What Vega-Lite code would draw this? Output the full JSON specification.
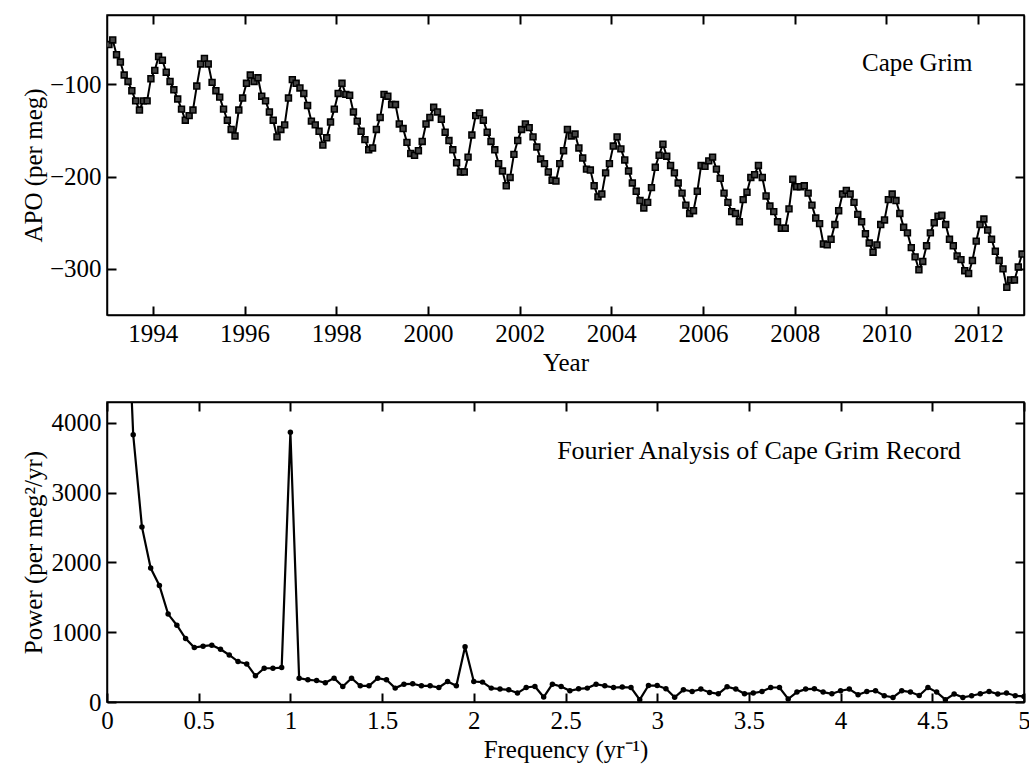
{
"$schema": "https://vega.github.io/schema/vega-lite/v6.json",
"padding": {"left": 20, "top": 13, "right": 5, "bottom": 5},
"background": "white",
"bounds": "flush",
"spacing": 87,
"config": {
  "font": "Liberation Serif",
  "view": {"stroke": "black", "strokeWidth": 1.5},
  "axis": {"grid": false, "domain": true, "domainColor": "black", "domainWidth": 1.5, "ticks": true, "tickColor": "#000000", "tickSize": 9, "tickWidth": 2, "zindex": 1,
    "labelFont": "Liberation Serif", "labelFontSize": 25, "labelColor": "black", "labelPadding": 6,
    "labelFlush": false, "labelOverlap": false,
    "titleFont": "Liberation Serif", "titleFontSize": 25, "titleFontWeight": "normal", "titleColor": "black"}
},
"datasets": {
"apo": [
{"t":1993.042,"v":-57},{"t":1993.125,"v":-52},{"t":1993.208,"v":-68},{"t":1993.292,"v":-76},{"t":1993.375,"v":-90},{"t":1993.458,"v":-97},{"t":1993.542,"v":-107},{"t":1993.625,"v":-118},{"t":1993.708,"v":-128},{"t":1993.792,"v":-118},{"t":1993.875,"v":-118},{"t":1993.958,"v":-94},
{"t":1994.042,"v":-85},{"t":1994.125,"v":-70},{"t":1994.208,"v":-74},{"t":1994.292,"v":-87},{"t":1994.375,"v":-97},{"t":1994.458,"v":-106},{"t":1994.542,"v":-116},{"t":1994.625,"v":-127},{"t":1994.708,"v":-139},{"t":1994.792,"v":-134},{"t":1994.875,"v":-128},{"t":1994.958,"v":-102},
{"t":1995.042,"v":-78},{"t":1995.125,"v":-72},{"t":1995.208,"v":-78},{"t":1995.292,"v":-98},{"t":1995.375,"v":-107},{"t":1995.458,"v":-114},{"t":1995.542,"v":-127},{"t":1995.625,"v":-139},{"t":1995.708,"v":-149},{"t":1995.792,"v":-156},{"t":1995.875,"v":-128},{"t":1995.958,"v":-115},
{"t":1996.042,"v":-99},{"t":1996.125,"v":-90},{"t":1996.208,"v":-97},{"t":1996.292,"v":-93},{"t":1996.375,"v":-113},{"t":1996.458,"v":-118},{"t":1996.542,"v":-130},{"t":1996.625,"v":-139},{"t":1996.708,"v":-157},{"t":1996.792,"v":-149},{"t":1996.875,"v":-144},{"t":1996.958,"v":-115},
{"t":1997.042,"v":-95},{"t":1997.125,"v":-99},{"t":1997.208,"v":-104},{"t":1997.292,"v":-110},{"t":1997.375,"v":-123},{"t":1997.458,"v":-140},{"t":1997.542,"v":-144},{"t":1997.625,"v":-151},{"t":1997.708,"v":-166},{"t":1997.792,"v":-158},{"t":1997.875,"v":-141},{"t":1997.958,"v":-127},
{"t":1998.042,"v":-110},{"t":1998.125,"v":-99},{"t":1998.208,"v":-111},{"t":1998.292,"v":-112},{"t":1998.375,"v":-130},{"t":1998.458,"v":-140},{"t":1998.542,"v":-151},{"t":1998.625,"v":-160},{"t":1998.708,"v":-171},{"t":1998.792,"v":-169},{"t":1998.875,"v":-149},{"t":1998.958,"v":-136},
{"t":1999.042,"v":-111},{"t":1999.125,"v":-113},{"t":1999.208,"v":-122},{"t":1999.292,"v":-122},{"t":1999.375,"v":-143},{"t":1999.458,"v":-148},{"t":1999.542,"v":-163},{"t":1999.625,"v":-175},{"t":1999.708,"v":-177},{"t":1999.792,"v":-172},{"t":1999.875,"v":-162},{"t":1999.958,"v":-143},
{"t":2000.042,"v":-136},{"t":2000.125,"v":-125},{"t":2000.208,"v":-130},{"t":2000.292,"v":-138},{"t":2000.375,"v":-152},{"t":2000.458,"v":-161},{"t":2000.542,"v":-171},{"t":2000.625,"v":-185},{"t":2000.708,"v":-195},{"t":2000.792,"v":-195},{"t":2000.875,"v":-179},{"t":2000.958,"v":-155},
{"t":2001.042,"v":-134},{"t":2001.125,"v":-131},{"t":2001.208,"v":-139},{"t":2001.292,"v":-152},{"t":2001.375,"v":-162},{"t":2001.458,"v":-171},{"t":2001.542,"v":-186},{"t":2001.625,"v":-194},{"t":2001.708,"v":-210},{"t":2001.792,"v":-201},{"t":2001.875,"v":-176},{"t":2001.958,"v":-161},
{"t":2002.042,"v":-149},{"t":2002.125,"v":-143},{"t":2002.208,"v":-147},{"t":2002.292,"v":-157},{"t":2002.375,"v":-168},{"t":2002.458,"v":-181},{"t":2002.542,"v":-186},{"t":2002.625,"v":-195},{"t":2002.708,"v":-204},{"t":2002.792,"v":-205},{"t":2002.875,"v":-186},{"t":2002.958,"v":-172},
{"t":2003.042,"v":-149},{"t":2003.125,"v":-156},{"t":2003.208,"v":-154},{"t":2003.292,"v":-169},{"t":2003.375,"v":-180},{"t":2003.458,"v":-192},{"t":2003.542,"v":-193},{"t":2003.625,"v":-210},{"t":2003.708,"v":-222},{"t":2003.792,"v":-219},{"t":2003.875,"v":-196},{"t":2003.958,"v":-186},
{"t":2004.042,"v":-167},{"t":2004.125,"v":-157},{"t":2004.208,"v":-170},{"t":2004.292,"v":-182},{"t":2004.375,"v":-194},{"t":2004.458,"v":-207},{"t":2004.542,"v":-216},{"t":2004.625,"v":-226},{"t":2004.708,"v":-234},{"t":2004.792,"v":-228},{"t":2004.875,"v":-212},{"t":2004.958,"v":-190},
{"t":2005.042,"v":-177},{"t":2005.125,"v":-165},{"t":2005.208,"v":-178},{"t":2005.292,"v":-188},{"t":2005.375,"v":-196},{"t":2005.458,"v":-207},{"t":2005.542,"v":-218},{"t":2005.625,"v":-231},{"t":2005.708,"v":-240},{"t":2005.792,"v":-237},{"t":2005.875,"v":-216},{"t":2005.958,"v":-188},
{"t":2006.042,"v":-189},{"t":2006.125,"v":-183},{"t":2006.208,"v":-179},{"t":2006.292,"v":-192},{"t":2006.375,"v":-202},{"t":2006.458,"v":-218},{"t":2006.542,"v":-228},{"t":2006.625,"v":-238},{"t":2006.708,"v":-240},{"t":2006.792,"v":-249},{"t":2006.875,"v":-225},{"t":2006.958,"v":-217},
{"t":2007.042,"v":-201},{"t":2007.125,"v":-198},{"t":2007.208,"v":-188},{"t":2007.292,"v":-201},{"t":2007.375,"v":-221},{"t":2007.458,"v":-232},{"t":2007.542,"v":-238},{"t":2007.625,"v":-249},{"t":2007.708,"v":-256},{"t":2007.792,"v":-256},{"t":2007.875,"v":-235},{"t":2007.958,"v":-203},
{"t":2008.042,"v":-211},{"t":2008.125,"v":-211},{"t":2008.208,"v":-210},{"t":2008.292,"v":-218},{"t":2008.375,"v":-231},{"t":2008.458,"v":-245},{"t":2008.542,"v":-251},{"t":2008.625,"v":-273},{"t":2008.708,"v":-274},{"t":2008.792,"v":-268},{"t":2008.875,"v":-252},{"t":2008.958,"v":-237},
{"t":2009.042,"v":-219},{"t":2009.125,"v":-215},{"t":2009.208,"v":-219},{"t":2009.292,"v":-228},{"t":2009.375,"v":-241},{"t":2009.458,"v":-249},{"t":2009.542,"v":-262},{"t":2009.625,"v":-272},{"t":2009.708,"v":-282},{"t":2009.792,"v":-274},{"t":2009.875,"v":-252},{"t":2009.958,"v":-247},
{"t":2010.042,"v":-225},{"t":2010.125,"v":-219},{"t":2010.208,"v":-226},{"t":2010.292,"v":-240},{"t":2010.375,"v":-255},{"t":2010.458,"v":-261},{"t":2010.542,"v":-277},{"t":2010.625,"v":-287},{"t":2010.708,"v":-301},{"t":2010.792,"v":-292},{"t":2010.875,"v":-275},{"t":2010.958,"v":-261},
{"t":2011.042,"v":-250},{"t":2011.125,"v":-243},{"t":2011.208,"v":-242},{"t":2011.292,"v":-252},{"t":2011.375,"v":-268},{"t":2011.458,"v":-275},{"t":2011.542,"v":-286},{"t":2011.625,"v":-290},{"t":2011.708,"v":-302},{"t":2011.792,"v":-305},{"t":2011.875,"v":-291},{"t":2011.958,"v":-270},
{"t":2012.042,"v":-252},{"t":2012.125,"v":-246},{"t":2012.208,"v":-258},{"t":2012.292,"v":-268},{"t":2012.375,"v":-281},{"t":2012.458,"v":-291},{"t":2012.542,"v":-300},{"t":2012.625,"v":-320},{"t":2012.708,"v":-312},{"t":2012.792,"v":-312},{"t":2012.875,"v":-298},{"t":2012.958,"v":-284}
],
"power": [
{"f":0.0476,"p":15000},{"f":0.0952,"p":6800},{"f":0.1429,"p":3830},{"f":0.1905,"p":2510},{"f":0.2381,"p":1920},{"f":0.2857,"p":1670},{"f":0.3333,"p":1260},{"f":0.381,"p":1100},{"f":0.4286,"p":910},{"f":0.4762,"p":780},
{"f":0.5238,"p":800},{"f":0.5714,"p":815},{"f":0.619,"p":755},{"f":0.6667,"p":674},{"f":0.7143,"p":579},{"f":0.7619,"p":546},{"f":0.8095,"p":375},{"f":0.8571,"p":484},{"f":0.9048,"p":484},{"f":0.9524,"p":493},
{"f":1.0,"p":3865},{"f":1.0476,"p":342},{"f":1.0952,"p":318},{"f":1.1429,"p":308},{"f":1.1905,"p":275},{"f":1.2381,"p":342},{"f":1.2857,"p":222},{"f":1.3333,"p":342},{"f":1.381,"p":232},{"f":1.4286,"p":232},
{"f":1.4762,"p":342},{"f":1.5238,"p":318},{"f":1.5714,"p":199},{"f":1.619,"p":256},{"f":1.6667,"p":261},{"f":1.7143,"p":232},{"f":1.7619,"p":232},{"f":1.8095,"p":208},{"f":1.8571,"p":294},{"f":1.9048,"p":232},
{"f":1.9524,"p":792},{"f":2.0,"p":294},{"f":2.0476,"p":285},{"f":2.0952,"p":199},{"f":2.1429,"p":185},{"f":2.1905,"p":175},{"f":2.2381,"p":128},{"f":2.2857,"p":208},{"f":2.3333,"p":222},{"f":2.381,"p":71},
{"f":2.4286,"p":256},{"f":2.4762,"p":222},{"f":2.5238,"p":161},{"f":2.5714,"p":189},{"f":2.619,"p":199},{"f":2.6667,"p":256},{"f":2.7143,"p":232},{"f":2.7619,"p":208},{"f":2.8095,"p":214},{"f":2.8571,"p":208},
{"f":2.9048,"p":33},{"f":2.9524,"p":236},{"f":3.0,"p":236},{"f":3.0476,"p":190},{"f":3.0952,"p":68},{"f":3.1429,"p":175},{"f":3.1905,"p":151},{"f":3.2381,"p":185},{"f":3.2857,"p":137},{"f":3.3333,"p":118},
{"f":3.381,"p":218},{"f":3.4286,"p":185},{"f":3.4762,"p":118},{"f":3.5238,"p":128},{"f":3.5714,"p":151},{"f":3.619,"p":208},{"f":3.6667,"p":208},{"f":3.7143,"p":43},{"f":3.7619,"p":142},{"f":3.8095,"p":185},
{"f":3.8571,"p":189},{"f":3.9048,"p":142},{"f":3.9524,"p":118},{"f":4.0,"p":161},{"f":4.0476,"p":185},{"f":4.0952,"p":104},{"f":4.1429,"p":151},{"f":4.1905,"p":161},{"f":4.2381,"p":90},{"f":4.2857,"p":66},
{"f":4.3333,"p":161},{"f":4.381,"p":142},{"f":4.4286,"p":94},{"f":4.4762,"p":208},{"f":4.5238,"p":142},{"f":4.5714,"p":33},{"f":4.619,"p":114},{"f":4.6667,"p":66},{"f":4.7143,"p":90},{"f":4.7619,"p":118},
{"f":4.8095,"p":151},{"f":4.8571,"p":114},{"f":4.9048,"p":128},{"f":4.9524,"p":90},{"f":5.0,"p":80}
]
},
"vconcat": [
{
  "width": 917, "height": 300,
  "layer": [
    {"data": {"name": "apo"},
     "mark": {"type": "line", "color": "black", "strokeWidth": 2, "clip": true},
     "encoding": {
       "x": {"field": "t", "type": "quantitative", "scale": {"domain": [1993, 2013], "nice": false, "zero": false},
             "axis": {"orient": "bottom", "values": [1994,1996,1998,2000,2002,2004,2006,2008,2010,2012], "format": "d", "tickSize": -9, "labelPadding": 15, "title": "Year", "titleBaseline": "alphabetic", "titleY": 55}},
       "y": {"field": "v", "type": "quantitative", "scale": {"domain": [-350, -25], "nice": false, "zero": false},
             "axis": {"orient": "left", "values": [-300,-200,-100], "tickSize": -9, "labelPadding": 15, "title": "APO (per meg)", "titleX": -66, "titleBaseline": "alphabetic"}}
     }},
    {"data": {"name": "apo"},
     "mark": {"type": "point", "shape": "square", "filled": true, "size": 34, "fill": "#444444", "stroke": "black", "strokeWidth": 1.6, "opacity": 1, "clip": true},
     "encoding": {
       "x": {"field": "t", "type": "quantitative", "scale": {"domain": [1993, 2013], "nice": false, "zero": false},
             "axis": {"orient": "top", "values": [1994,1996,1998,2000,2002,2004,2006,2008,2010,2012], "tickSize": -9, "labels": false, "title": null}},
       "y": {"field": "v", "type": "quantitative", "scale": {"domain": [-350, -25], "nice": false, "zero": false},
             "axis": {"orient": "right", "values": [-300,-200,-100], "tickSize": -9, "labels": false, "title": null}}
     }},
    {"data": {"values": [{"label": "Cape Grim", "t": 2010.67, "v": -77}]},
     "mark": {"type": "text", "font": "Liberation Serif", "fontSize": 25, "color": "black", "align": "center", "baseline": "middle"},
     "encoding": {
       "x": {"field": "t", "type": "quantitative", "scale": {"domain": [1993, 2013], "nice": false, "zero": false}, "axis": null},
       "y": {"field": "v", "type": "quantitative", "scale": {"domain": [-350, -25], "nice": false, "zero": false}, "axis": null},
       "text": {"field": "label"}
     }}
  ],
  "resolve": {"axis": {"x": "independent", "y": "independent"}}
},
{
  "width": 917, "height": 300,
  "layer": [
    {"data": {"name": "power"},
     "mark": {"type": "line", "color": "black", "strokeWidth": 2.2, "clip": true},
     "encoding": {
       "x": {"field": "f", "type": "quantitative", "scale": {"domain": [0, 5], "nice": false},
             "axis": {"orient": "bottom", "values": [0,0.5,1,1.5,2,2.5,3,3.5,4,4.5,5], "format": "~g", "tickSize": -9, "labelPadding": 15, "title": "Frequency (yr⁻¹)", "titleBaseline": "alphabetic", "titleY": 55}},
       "y": {"field": "p", "type": "quantitative", "scale": {"domain": [0, 4300], "nice": false},
             "axis": {"orient": "left", "values": [0,1000,2000,3000,4000], "format": "d", "tickSize": -9, "labelPadding": 15, "title": "Power (per meg²/yr)", "titleX": -66, "titleBaseline": "alphabetic"}}
     }},
    {"data": {"name": "power"},
     "mark": {"type": "point", "shape": "circle", "filled": true, "size": 30, "color": "black", "opacity": 1, "clip": true},
     "encoding": {
       "x": {"field": "f", "type": "quantitative", "scale": {"domain": [0, 5], "nice": false},
             "axis": {"orient": "top", "values": [0,0.5,1,1.5,2,2.5,3,3.5,4,4.5,5], "tickSize": -9, "labels": false, "title": null}},
       "y": {"field": "p", "type": "quantitative", "scale": {"domain": [0, 4300], "nice": false},
             "axis": {"orient": "right", "values": [0,1000,2000,3000,4000], "tickSize": -9, "labels": false, "title": null}}
     }},
    {"data": {"values": [{"label": "Fourier Analysis of Cape Grim Record", "f": 3.555, "p": 3594}]},
     "mark": {"type": "text", "font": "Liberation Serif", "fontSize": 26, "color": "black", "align": "center", "baseline": "middle"},
     "encoding": {
       "x": {"field": "f", "type": "quantitative", "scale": {"domain": [0, 5], "nice": false}, "axis": null},
       "y": {"field": "p", "type": "quantitative", "scale": {"domain": [0, 4300], "nice": false}, "axis": null},
       "text": {"field": "label"}
     }}
  ],
  "resolve": {"axis": {"x": "independent", "y": "independent"}}
}
]
}
